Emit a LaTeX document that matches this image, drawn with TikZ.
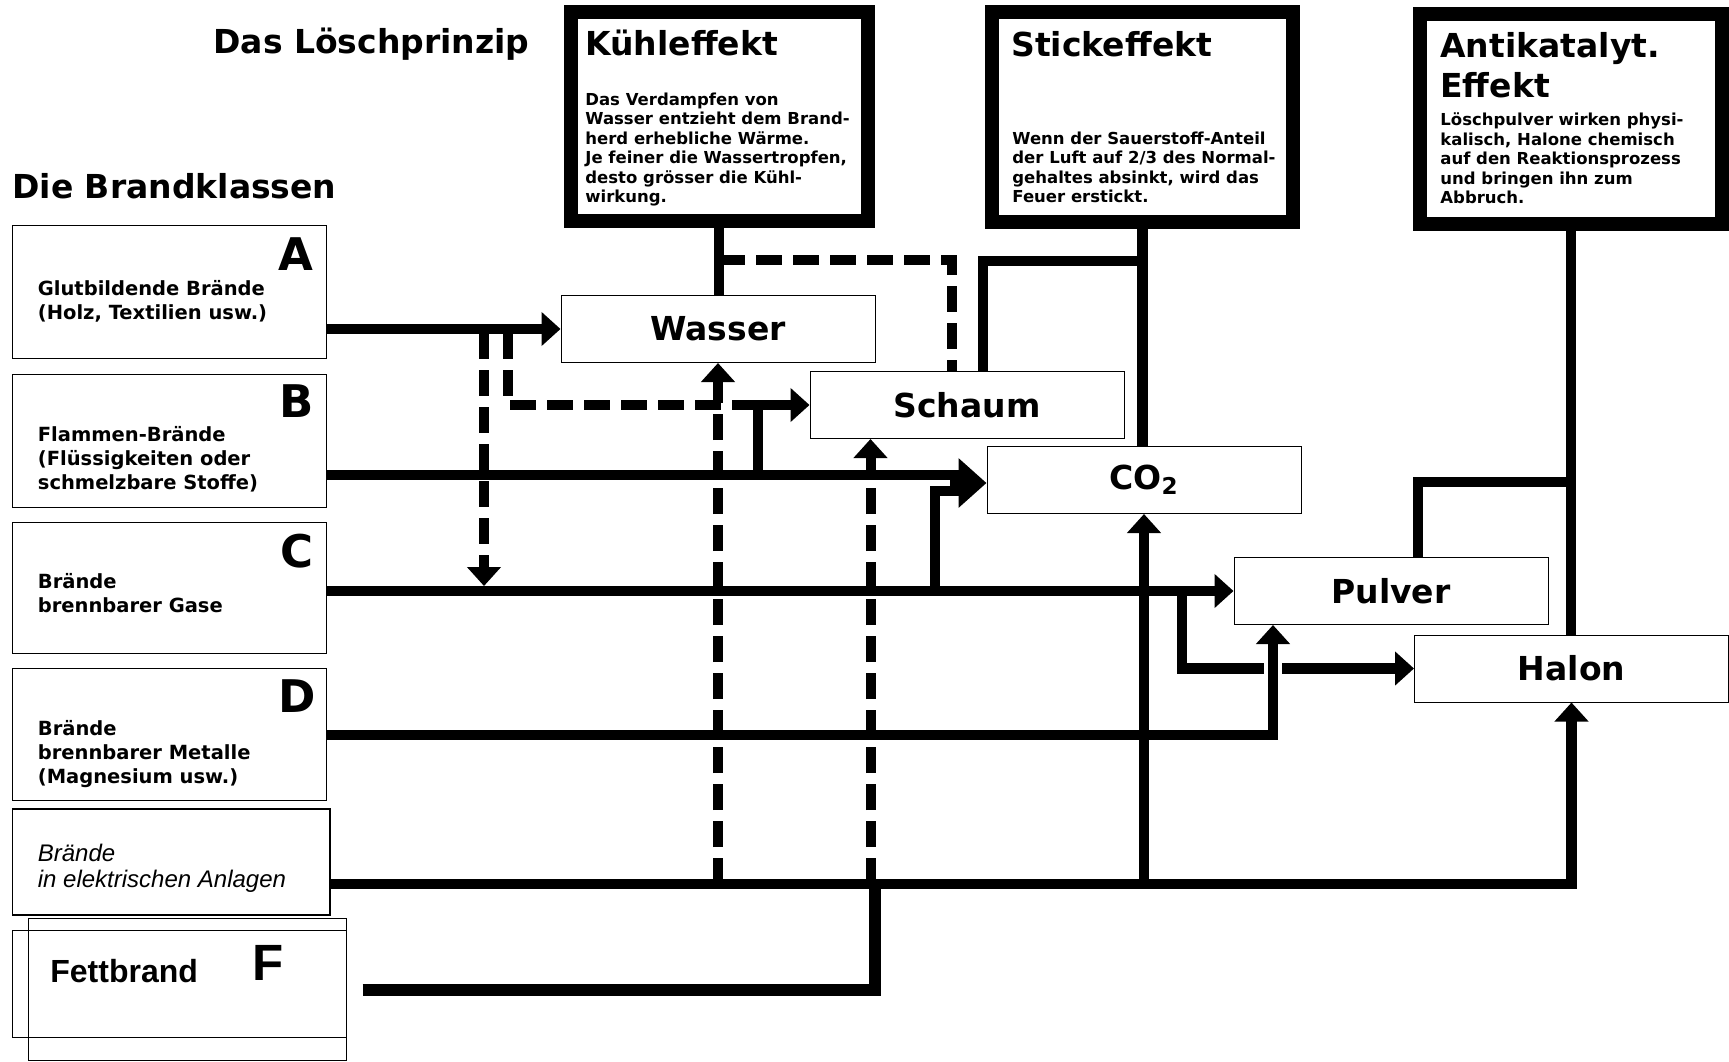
\documentclass[tikz,border=0pt]{standalone}
\usepackage{fontspec}
\setmainfont{DejaVu Sans}
\newfontfamily\arialfont{Liberation Sans}
\usetikzlibrary{arrows.meta}

\begin{document}
\begin{tikzpicture}[x=0.5pt, y=-0.5pt,
  effect/.style={draw, line width=7pt, inner sep=0pt},
  agent/.style={draw, line width=0.5pt, minimum width=157pt, minimum height=33.5pt, inner sep=0pt, font=\fontsize{16.5}{19}\selectfont\bfseries},
  classbox/.style={draw, line width=0.5pt, minimum width=157pt, inner sep=0pt},
  classtext/.style={anchor=north west, inner sep=0pt, align=left, font=\fontsize{9.75}{11.9}\selectfont\bfseries},
  classletter/.style={anchor=base east, inner sep=0pt, font=\fontsize{22.5}{24}\selectfont\bfseries},
  headline/.style={anchor=base west, inner sep=0pt, font=\fontsize{16.5}{20}\selectfont\bfseries},
  bodytext/.style={anchor=north west, inner sep=0pt, align=left, font=\fontsize{8.25}{9.75}\selectfont\bfseries},
  flow/.style={line width=5.25pt},
  dashflow/.style={line width=5pt, dash pattern=on 13pt off 5.5pt},
  flowhead/.style={-{Triangle[length=9.5pt, width=16.5pt]}},
  bighead/.style={-{Triangle[length=14pt, width=24pt]}}]

\useasboundingbox (0,0) rectangle (1729,1061);

\node[headline] (loesch) at (213,53) {Das Löschprinzip};
\node[headline] (klassen) at (12,198) {Die Brandklassen};

\node[effect, minimum width=148.5pt, minimum height=104.5pt] (kuehl) at (719,116.5) {};
\node[headline] (kuehltitle) at (585,55) {Kühleffekt};
\node[bodytext] (kuehltext) at (585,92.5) {Das Verdampfen von\\Wasser entzieht dem Brand-\\herd erhebliche Wärme.\\Je feiner die Wassertropfen,\\desto grösser die Kühl-\\wirkung.};

\node[effect, minimum width=150.5pt, minimum height=105.25pt] (stick) at (1142.5,117) {};
\node[headline] (sticktitle) at (1011,56) {Stickeffekt};
\node[bodytext] (sticktext) at (1012,131.5) {Wenn der Sauerstoff-Anteil\\der Luft auf 2/3 des Normal-\\gehaltes absinkt, wird das\\Feuer erstickt.};

\node[effect, minimum width=151pt, minimum height=104.75pt] (anti) at (1571,118.75) {};
\node[headline, anchor=north west, align=left] (antititle) at (1440,32) {Antikatalyt.\\Effekt};
\node[bodytext] (antitext) at (1440,112.5) {Löschpulver wirken physi-\\kalisch, Halone chemisch\\auf den Reaktionsprozess\\und bringen ihn zum\\Abbruch.};

\node[agent] (wasser) at (718,329) {Wasser};
\node[agent] (schaum) at (967,405) {Schaum};
\node[agent] (co2) at (1144,480) {CO\textsubscript{2}};
\node[agent] (pulver) at (1391,591) {Pulver};
\node[agent] (halon) at (1571.5,668.5) {Halon};

\node[classbox, minimum height=66.5pt] (klasseA) at (169,291.5) {};
\node[classletter] (letterA) at (314,270) {A};
\node[classtext] (textA) at (37.5,280) {Glutbildende Brände\\(Holz, Textilien usw.)};

\node[classbox, minimum height=66.5pt] (klasseB) at (169,440.5) {};
\node[classletter] (letterB) at (314,417) {B};
\node[classtext] (textB) at (37.5,426) {Flammen-Brände\\(Flüssigkeiten oder\\schmelzbare Stoffe)};

\node[classbox, minimum height=65.5pt] (klasseC) at (169,587.5) {};
\node[classletter] (letterC) at (314,567) {C};
\node[classtext] (textC) at (37.5,573) {Brände\\brennbarer Gase};

\node[classbox, minimum height=66pt] (klasseD) at (169,734) {};
\node[classletter] (letterD) at (316,712) {D};
\node[classtext] (textD) at (37.5,720) {Brände\\brennbarer Metalle\\(Magnesium usw.)};

\node[classbox, line width=0.9pt, minimum width=158.75pt, minimum height=53pt] (klasseE) at (171.25,862) {};
\node[anchor=north west, inner sep=0pt, align=left, font=\arialfont\itshape\fontsize{12}{13}\selectfont] (textE) at (37.5,844) {Brände\\in elektrischen Anlagen};

\node[classbox, minimum width=166.75pt, minimum height=53.5pt] (fettA) at (179.25,983.5) {};
\node[classbox, minimum width=158.75pt, minimum height=71pt] (fettB) at (187.25,989) {};
\node[anchor=base west, inner sep=0pt, font=\arialfont\bfseries\fontsize{16}{18}\selectfont] (fetttext) at (50,982) {Fettbrand};
\node[anchor=base west, inner sep=0pt, font=\arialfont\bfseries\fontsize{25.5}{27}\selectfont] (fettletter) at (252,980) {F};

\coordinate (aDrop) at (484,333);
\coordinate (cHit) at (484,586);
\coordinate (aFoam) at (508,333);
\coordinate (foamJoin) at (758,405);
\coordinate (bUp) at (758,475);
\coordinate (bEnd) at (966,475);
\coordinate (cUp) at (935,591);
\coordinate (cEnd) at (966,491);
\coordinate (co2Merge) at (950,483);
\coordinate (cDown) at (1182,591);
\coordinate (halonGapA) at (1264,668.5);
\coordinate (halonGapB) at (1282,668.5);
\coordinate (fJoin) at (875,884);

\draw[flow] (kuehl.south) -- (kuehl.south |- wasser.north);
\draw[dashflow] (kuehl.south |- 0,260) -| ([xshift=-7.5pt]schaum.north);
\draw[flow] (stick.south) -- (stick.south |- co2.north);
\draw[flow] (stick.south |- 0,261) -| ([xshift=8pt]schaum.north);
\draw[flow] (anti.south) -- (anti.south |- halon.north);
\draw[flow] (anti.south |- 0,482) -| ([xshift=13.5pt]pulver.north);

\draw[flow, flowhead] (klasseA.east |- wasser.west) -- (wasser.west);
\draw[dashflow, flowhead] (aDrop) -- (cHit);
\draw[dashflow] (aFoam) |- (foamJoin);

\draw[flow] (klasseB.east |- bEnd) -- (bEnd);
\draw[flow, flowhead] (bUp) |- (schaum.west);

\draw[flow, flowhead] (klasseC.east |- pulver.west) -- (pulver.west);
\draw[flow] (cUp) |- (cEnd);
\draw[flow, bighead] (co2Merge) -- (co2Merge -| co2.west);
\draw[flow, flowhead] (cDown) |- (halonGapA) (halonGapB) -- (halon.west);

\draw[flow, flowhead] (klasseD.east |- 0,735) -| ([xshift=-59pt]pulver.south);

\draw[flow, flowhead] (klasseE.east |- 0,884) -| (halon.south);
\draw[dashflow, flowhead] (wasser.south |- 0,884) -- (wasser.south);
\draw[dashflow, flowhead] ([xshift=-48.25pt]schaum.south |- 0,884) -- ([xshift=-48.25pt]schaum.south);
\draw[flow, flowhead] (co2.south |- 0,884) -- (co2.south);

\draw[flow, line width=6pt] ([xshift=8pt]fettB.east |- 0,990) -| (fJoin);

\end{tikzpicture}
\end{document}
